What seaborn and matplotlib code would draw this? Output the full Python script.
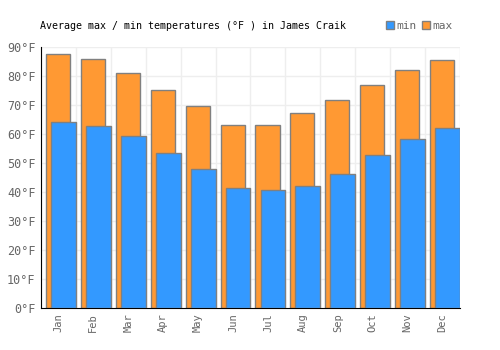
#!/usr/bin/env python3
"""Average max / min temperatures bar chart (James Craik)"""

import numpy as np
import pandas as pd
import matplotlib
matplotlib.use("Agg")
import matplotlib.pyplot as plt
import matplotlib.patches as mpatches
import seaborn as sns

# Data
months = ["Jan", "Feb", "Mar", "Apr", "May", "Jun",
          "Jul", "Aug", "Sep", "Oct", "Nov", "Dec"]
temp_max = [87.4, 85.9, 81.0, 75.3, 69.7, 63.1, 63.1, 67.2, 71.7, 76.9, 82.1, 85.5]
temp_min = [64.1, 62.8, 59.3, 53.4, 47.9, 41.4, 40.7, 42.1, 46.2, 52.8, 58.3, 62.1]

BLUE = "#3399ff"
ORANGE = "#ff9933"
EDGE = "#808080"
TEXT = "#666666"

sns.set_style("white")
plt.rcParams["font.family"] = ["DejaVu Sans Mono"]

df = pd.DataFrame({"month": months, "max": temp_max, "min": temp_min})
df["idx"] = np.arange(len(df))

fig = plt.figure(figsize=(5, 3.5), dpi=100)
ax = fig.add_axes([0.082, 0.12, 0.838, 0.746])

# max bars sit a bit left, min bars overlap on the right
sns.barplot(x=df["idx"] - 0.014, y=df["max"], native_scale=True, width=0.69,
            color=ORANGE, edgecolor=EDGE, linewidth=1.0, saturation=1, ax=ax, zorder=2)
sns.barplot(x=df["idx"] + 0.143, y=df["min"], native_scale=True, width=0.71,
            color=BLUE, edgecolor=EDGE, linewidth=1.0, saturation=1, ax=ax, zorder=3)

ax.set_xlim(-0.5, 11.5)
ax.set_ylim(0, 90)
ax.set_xticks(df["idx"])
ax.set_xticklabels(months, rotation=90, fontsize=7.5, color=TEXT)
ax.set_yticks(range(0, 91, 10))
ax.set_yticklabels([f"{v}°F" for v in range(0, 91, 10)], fontsize=8.5, color=TEXT)
ax.set_xlabel("")
ax.set_ylabel("")

# grid lines at slot boundaries and every 10 degrees
for xb in np.arange(-0.5, 12, 1.0):
    ax.axvline(xb, color="#eeeeee", lw=1, zorder=0)
for yv in range(10, 91, 10):
    ax.axhline(yv, color="#eeeeee", lw=1, zorder=0)

for s in ["top", "right"]:
    ax.spines[s].set_visible(False)
ax.spines["left"].set_color("black")
ax.spines["bottom"].set_color("black")
ax.tick_params(axis="both", length=0, pad=4)

fig.text(0.08, 0.925, "Average max / min temperatures (°F ) in James Craik",
         fontsize=7.2, color="black", ha="left", va="center")

handles = [mpatches.Patch(facecolor=BLUE, edgecolor=EDGE, label="min"),
           mpatches.Patch(facecolor=ORANGE, edgecolor=EDGE, label="max")]
fig.legend(handles=handles, loc="center right", bbox_to_anchor=(0.925, 0.927),
           ncol=2, frameon=False, fontsize=8, handlelength=0.7, handleheight=0.7,
           handletextpad=0.2, columnspacing=0.5, labelcolor=TEXT)

fig.savefig("out.png", dpi=100)
